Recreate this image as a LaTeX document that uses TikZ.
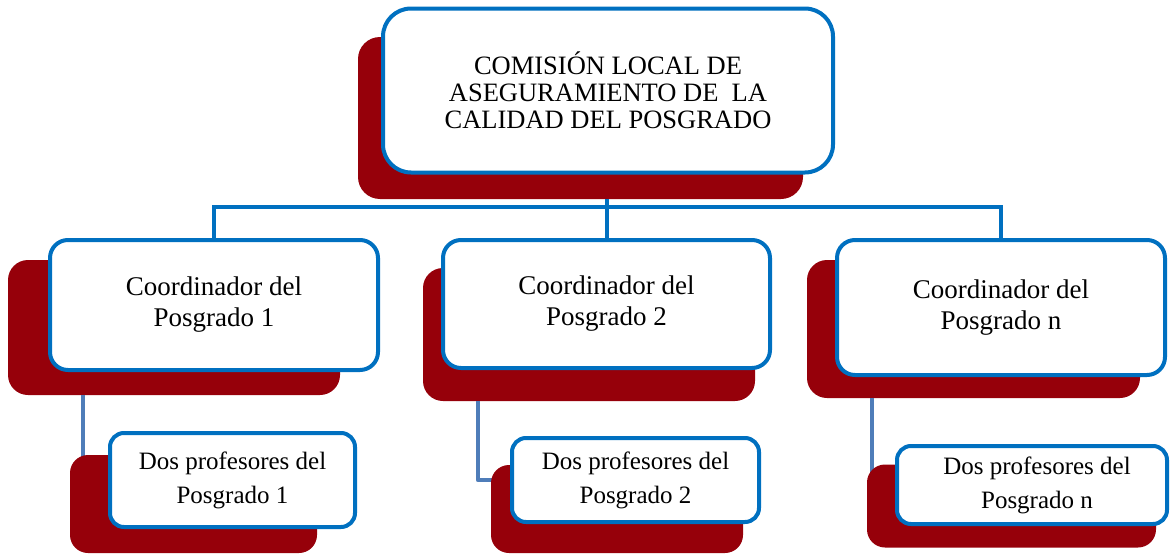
\documentclass[tikz,border=0pt]{standalone}
\usepackage{fontspec}
\setmainfont{Liberation Serif}
\usetikzlibrary{calc}
\definecolor{shadowred}{RGB}{150,0,10}
\definecolor{boxblue}{RGB}{0,112,192}
\definecolor{subblue}{RGB}{79,125,185}
\tikzset{
  whitebox/.style={draw=boxblue, line width=4pt, fill=white, rectangle, inner sep=0pt, align=center},
  redbox/.style={fill=shadowred, draw=none, rectangle, inner sep=0pt},
  mainline/.style={draw=boxblue, line width=4pt},
  subline/.style={draw=subblue, line width=4pt},
  topfont/.style={font=\fontsize{26.5}{27}\selectfont},
  coordfont/.style={font=\fontsize{27}{31}\selectfont},
  subfont/.style={font=\fontsize{25}{34}\selectfont}
}
\begin{document}
\begin{tikzpicture}[x=1pt,y=-1pt]
\clip (0,0) rectangle (1170,554);
% shadows
\node[redbox, rounded corners=22pt, minimum width=445pt, minimum height=162pt] (topsh) at (580.5,118) {};
\node[redbox, rounded corners=20pt, minimum width=332pt, minimum height=135pt] (c1sh) at (174,327.5) {};
\node[redbox, rounded corners=20pt, minimum width=332pt, minimum height=133pt] (c2sh) at (589,334.5) {};
\node[redbox, rounded corners=20pt, minimum width=333pt, minimum height=138pt] (cnsh) at (973.5,329) {};
% connectors
\coordinate (bus) at (607,207);
\draw[mainline] (topsh.south -| 607,0) -- (bus);
\coordinate (l1) at (83,0);
\coordinate (l2) at (478,0);
\coordinate (ln) at (872,0);
\draw[subline] (c1sh.south -| l1) -- ($(c1sh.south -| l1)+(0,70)$);
\draw[subline, line join=round] (c2sh.south -| l2) |- ($(c2sh.south -| l2)+(20,79)$);
\draw[subline] (cnsh.south -| ln) -- ($(cnsh.south -| ln)+(0,75)$);
% sub shadows
\node[redbox, rounded corners=18pt, minimum width=247pt, minimum height=98pt] (p1sh) at (193.5,504) {};
\node[redbox, rounded corners=18pt, minimum width=252pt, minimum height=88pt] (p2sh) at (617,509) {};
\node[redbox, rounded corners=18pt, minimum width=289pt, minimum height=83pt] (pnsh) at (1011.5,506) {};
% white boxes
\node[whitebox, rounded corners=28pt, minimum width=450pt, minimum height=164pt, topfont] (top) at (608,90.5)
  {COMISIÓN LOCAL DE\\ASEGURAMIENTO DE \ LA\\CALIDAD DEL POSGRADO};
\node[whitebox, rounded corners=18pt, minimum width=328pt, minimum height=130pt, coordfont] (c1) at (214,305)
  {Coordinador del\\Posgrado 1};
\node[whitebox, rounded corners=18pt, minimum width=327pt, minimum height=128pt, coordfont] (c2) at (606.5,304)
  {Coordinador del\\Posgrado 2};
\node[whitebox, rounded corners=18pt, minimum width=328pt, minimum height=135pt, coordfont] (cn) at (1001,307.5)
  {Coordinador del\\Posgrado n};
\draw[mainline] (c1.north) -- (c1.north |- bus) -- (cn.north |- bus) -- (cn.north);
\draw[mainline] (c2.north |- bus) -- (c2.north);
\node[whitebox, rounded corners=14pt, minimum width=245pt, minimum height=94pt, subfont] (p1) at (232.5,480)
  {Dos profesores del\\Posgrado 1};
\node[whitebox, rounded corners=14pt, minimum width=247pt, minimum height=84pt, subfont] (p2) at (635.5,480)
  {Dos profesores del\\Posgrado 2};
\node[whitebox, rounded corners=14pt, minimum width=270pt, minimum height=78pt, subfont] (pn) at (1032,485)
  {\hspace*{10pt}Dos profesores del\\\hspace*{10pt}Posgrado n};
\end{tikzpicture}
\end{document}
